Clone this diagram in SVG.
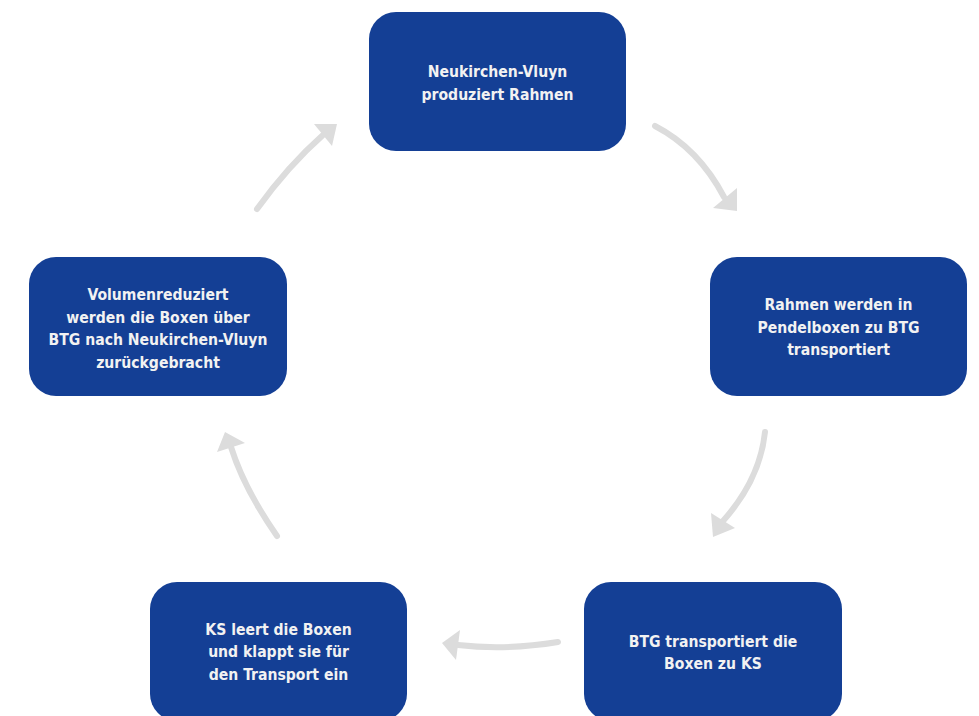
<svg xmlns="http://www.w3.org/2000/svg" width="979" height="716" viewBox="0 0 979 716">
<style>
.box{fill:#143f95;}
.lbl{fill:#f2f2f2;font-family:"DejaVu Sans Condensed","DejaVu Sans",sans-serif;font-stretch:condensed;font-weight:bold;font-size:15.6px;text-anchor:middle;}
.shaft{fill:none;stroke:#dcdcdc;stroke-width:6;stroke-linecap:round;}
.head{fill:#dcdcdc;}
</style>
<rect width="979" height="716" fill="#ffffff"/>
<g id="connectors">
<path class="shaft" d="M655,126 Q698.5,148.5 724,197"/>
<polygon class="head" points="713,208 737,188 737,211"/>
<path class="shaft" d="M765,432 Q760,479.5 723,521"/>
<polygon class="head" points="711,513 735,528 713,537"/>
<path class="shaft" d="M558,642 Q506,650.5 458,645"/>
<polygon class="head" points="460,630 442,643 456,660"/>
<path class="shaft" d="M277,536 Q244,488.5 231,447"/>
<polygon class="head" points="225,432 217,452 245,443"/>
<path class="shaft" d="M257,209 Q288,166 323,135"/>
<polygon class="head" points="314,124 337,124 332,146"/>
</g>
<g id="node1">
<rect class="box" x="369" y="12" width="257" height="139" rx="27"/>
<text class="lbl"><tspan x="497.5" y="77">Neukirchen-Vluyn</tspan><tspan x="497.5" y="100">produziert Rahmen</tspan></text>
</g>
<g id="node2">
<rect class="box" x="710" y="257" width="257" height="139" rx="27"/>
<text class="lbl"><tspan x="838.5" y="310">Rahmen werden in</tspan><tspan x="838.5" y="333">Pendelboxen zu BTG</tspan><tspan x="838.5" y="355">transportiert</tspan></text>
</g>
<g id="node3">
<rect class="box" x="584" y="582" width="258" height="139" rx="27"/>
<text class="lbl"><tspan x="713" y="647">BTG transportiert die</tspan><tspan x="713" y="669">Boxen zu KS</tspan></text>
</g>
<g id="node4">
<rect class="box" x="150" y="582" width="257" height="139" rx="27"/>
<text class="lbl"><tspan x="278.5" y="635">KS leert die Boxen</tspan><tspan x="278.5" y="657">und klappt sie für</tspan><tspan x="278.5" y="680">den Transport ein</tspan></text>
</g>
<g id="node5">
<rect class="box" x="29" y="257" width="258" height="139" rx="27"/>
<text class="lbl"><tspan x="158" y="300">Volumenreduziert</tspan><tspan x="158" y="323">werden die Boxen über</tspan><tspan x="158" y="345">BTG nach Neukirchen-Vluyn</tspan><tspan x="158" y="368">zurückgebracht</tspan></text>
</g>
</svg>
